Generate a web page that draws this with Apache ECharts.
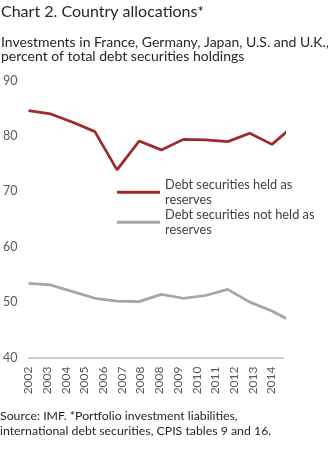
<!DOCTYPE html>
<html>
<head>
<meta charset="utf-8">
<script src="https://cdn.jsdelivr.net/npm/echarts@6/dist/echarts.min.js"></script>
<style>
  html, body { margin: 0; padding: 0; background: #ffffff; }
  #chart { width: 334px; height: 449px; }
</style>
</head>
<body>
<div id="chart"></div>
<script>
// Year labels printed under the axis (2008 appears twice in the source table)
const yearLabels = ['2002', '2003', '2004', '2005', '2006', '2007', '2008',
                    '2008', '2009', '2010', '2011', '2012', '2013', '2014'];

// Share of total debt securities holdings, percent
const heldAsReserves    = [84.6, 84.0, 82.5, 80.8, 73.9, 79.1, 77.5, 79.4, 79.3, 79.0, 80.5, 78.5, 81.9];
const notHeldAsReserves = [53.4, 53.1, 51.9, 50.7, 50.2, 50.1, 51.4, 50.7, 51.2, 52.3, 50.0, 48.4, 46.3];

const seriesNames = ['Debt securities held as reserves', 'Debt securities not held as reserves'];
const legendText = {
  'Debt securities held as reserves': 'Debt securities held as\nreserves',
  'Debt securities not held as reserves': 'Debt securities not held as\nreserves'
};

const yTicks = { min: 40, max: 90, step: 10 };

const FONT = 'Lato';
const toPairs = arr => arr.map((v, i) => [i, v]);

const chart = echarts.init(document.getElementById('chart'), null, { renderer: 'canvas' });

const legendBase = {
  orient: 'vertical',
  left: 117,
  icon: 'rect',
  itemWidth: 43,
  itemHeight: 3,
  selectedMode: false,
  padding: 0,
  formatter: name => legendText[name],
  textStyle: {
    fontFamily: FONT,
    fontSize: 12.8,
    color: '#404040',
    lineHeight: 14.5,
    padding: [14.5, 0, 0, 0]
  }
};

chart.setOption({
  animation: false,
  backgroundColor: '#ffffff',
  title: [
    {
      text: 'Chart 2. Country allocations*',
      subtext: 'Investments in France, Germany, Japan, U.S. and U.K.,\npercent of total debt securities holdings',
      left: 1,
      top: 3,
      padding: 0,
      itemGap: 14,
      textStyle: { fontFamily: FONT, fontSize: 16, fontWeight: 'normal', color: '#262626', lineHeight: 18 },
      subtextStyle: { fontFamily: FONT, fontSize: 14, color: '#262626', lineHeight: 14.5 }
    },
    {
      text: 'Source: IMF. *Portfolio investment liabilities,\ninternational debt securities, CPIS tables 9 and 16.',
      left: 0,
      top: 409,
      padding: 0,
      textStyle: { fontFamily: FONT, fontSize: 12.3, fontWeight: 'normal', color: '#262626', lineHeight: 14.5 }
    }
  ],
  legend: [
    Object.assign({}, legendBase, { data: [seriesNames[0]], top: 170.5 }),
    Object.assign({}, legendBase, { data: [seriesNames[1]], top: 200.5 })
  ],
  grid: { left: 28, right: 51, top: 80.7, bottom: 91.5, containLabel: false },
  xAxis: [
    {
      // positions of the plotted years
      type: 'value',
      min: 0,
      max: 11.5,
      show: false
    },
    {
      // printed year labels and the baseline
      type: 'value',
      position: 'bottom',
      min: 0,
      max: 13.62,
      interval: 1,
      axisLine: { show: true, lineStyle: { color: '#c9d0c9', width: 2 } },
      axisTick: { show: false },
      splitLine: { show: false },
      axisLabel: {
        rotate: 90,
        margin: 9,
        showMaxLabel: false,
        fontFamily: FONT,
        fontSize: 12,
        color: '#595959',
        formatter: v => (Number.isInteger(v) && yearLabels[v]) ? yearLabels[v] : ''
      }
    }
  ],
  yAxis: {
    type: 'value',
    min: yTicks.min,
    max: yTicks.max,
    interval: yTicks.step,
    axisLine: { show: false },
    axisTick: { show: false },
    splitLine: { show: false },
    axisLabel: { margin: 11, fontFamily: FONT, fontSize: 12.5, color: '#595959' }
  },
  series: [
    {
      name: seriesNames[0],
      type: 'line',
      xAxisIndex: 0,
      data: toPairs(heldAsReserves),
      symbol: 'none',
      clip: true,
      lineStyle: { color: '#9e2b2b', width: 2.75 },
      itemStyle: { color: '#9e2b2b' }
    },
    {
      name: seriesNames[1],
      type: 'line',
      xAxisIndex: 0,
      data: toPairs(notHeldAsReserves),
      symbol: 'none',
      clip: true,
      lineStyle: { color: '#a3a8a3', width: 2.75 },
      itemStyle: { color: '#a3a8a3' }
    }
  ]
});
</script>
</body>
</html>
